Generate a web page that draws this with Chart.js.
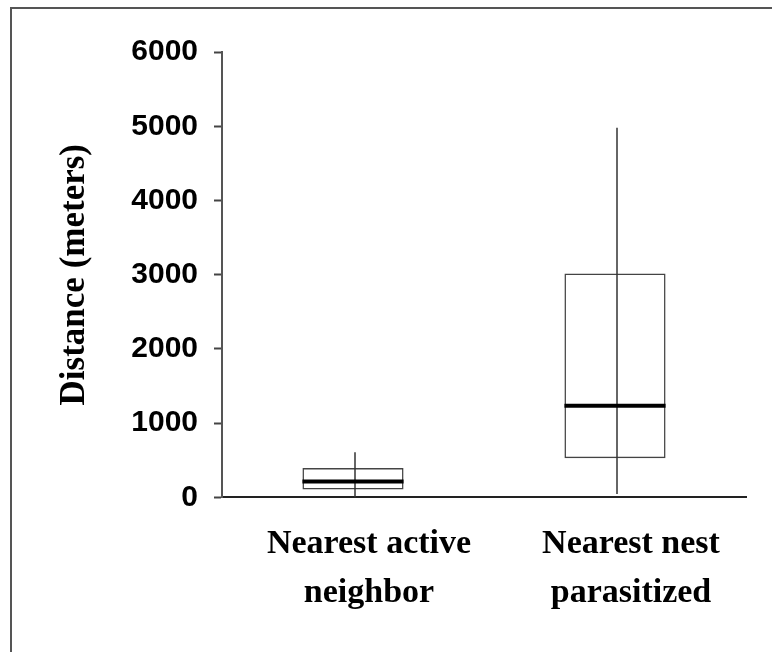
<!DOCTYPE html>
<html>
<head>
<meta charset="utf-8">
<script src="https://cdn.jsdelivr.net/npm/chart.js@4/dist/chart.umd.min.js"></script>
<style>
  body { margin: 0; background: #fff; }
  #wrap { position: relative; width: 772px; height: 652px; overflow: hidden; }
  #frame { position: absolute; left: 10px; top: 7px; width: 900px; height: 800px;
           border-left: 2px solid #555; border-top: 2px solid #555; }
  #mychart { position: absolute; left: 0; top: 0; }
</style>
</head>
<body>
<div id="wrap">
  <div id="frame"></div>
  <canvas id="mychart" width="772" height="652"></canvas>
</div>
<script>
const labels = [['Nearest active', 'neighbor'], ['Nearest nest', 'parasitized']];
const minVals = [0, 45];
const q1Vals = [108, 527];
const medianVals = [216, 1234];
const q3Vals = [396, 3018];
const maxVals = [608, 4980];
const yTicks = [0, 1000, 2000, 3000, 4000, 5000, 6000];

// whiskers and median lines on top of the box bars
const boxExtras = {
    id: 'boxExtras',
    afterDatasetsDraw(chart) {
        const ctx = chart.ctx;
        const y = chart.scales.y;
        const meta = chart.getDatasetMeta(0);
        meta.data.forEach((bar, i) => {
            const half = bar.width / 2;
            ctx.save();
            ctx.strokeStyle = '#333';
            ctx.lineWidth = 1.5;
            ctx.beginPath();
            ctx.moveTo(bar.x + 2, y.getPixelForValue(minVals[i]));
            ctx.lineTo(bar.x + 2, y.getPixelForValue(maxVals[i]));
            ctx.stroke();
            ctx.strokeStyle = '#000';
            ctx.lineWidth = 4;
            ctx.beginPath();
            ctx.moveTo(bar.x - half, y.getPixelForValue(medianVals[i]));
            ctx.lineTo(bar.x + half, y.getPixelForValue(medianVals[i]));
            ctx.stroke();
            ctx.restore();
        });
    }
};

const data = {
    labels: labels,
    datasets: [
        {
            data: q1Vals.map((v, i) => [v, q3Vals[i]]),
            backgroundColor: 'rgba(0,0,0,0)',
            borderColor: '#444',
            borderWidth: 1.5,
            borderSkipped: false,
            barPercentage: 0.386,
            categoryPercentage: 1,
        }
    ]
};

const config = {
    type: 'bar',
    data: data,
    plugins: [boxExtras],
    options: {
        responsive: false,
        animation: false,
        layout: {
            padding: { left: 50, top: 52, right: 26, bottom: 20 }
        },
        plugins: {
            legend: { display: false },
            tooltip: { enabled: false },
        },
        scales: {
            x: {
                grid: { display: false },
                border: { display: true, color: '#222', width: 2 },
                ticks: {
                    color: '#000',
                    padding: 15,
                    labelOffset: 16,
                    font: { family: 'Liberation Serif', size: 34, weight: 'bold', lineHeight: 1.42 },
                },
            },
            y: {
                min: 0,
                max: 6000,
                afterBuildTicks: (scale) => {
                    scale.ticks = yTicks.map(v => ({ value: v }));
                },
                afterFit: (scale) => {
                    scale.width = 222 - 50;
                },
                grid: {
                    drawOnChartArea: false,
                    tickLength: 8,
                    tickWidth: 2,
                    tickColor: '#444',
                },
                border: { display: true, color: '#555', width: 2 },
                ticks: {
                    color: '#000',
                    padding: 16,
                    callback: (v) => String(v),
                    font: { family: 'Liberation Sans', size: 30, weight: 'bold' },
                },
                title: {
                    display: true,
                    text: 'Distance (meters)',
                    color: '#000',
                    font: { family: 'Liberation Serif', size: 35, weight: 'bold' },
                },
            }
        }
    },
};

const ctx = document.getElementById('mychart').getContext('2d');
new Chart(ctx, config);
</script>
</body>
</html>
